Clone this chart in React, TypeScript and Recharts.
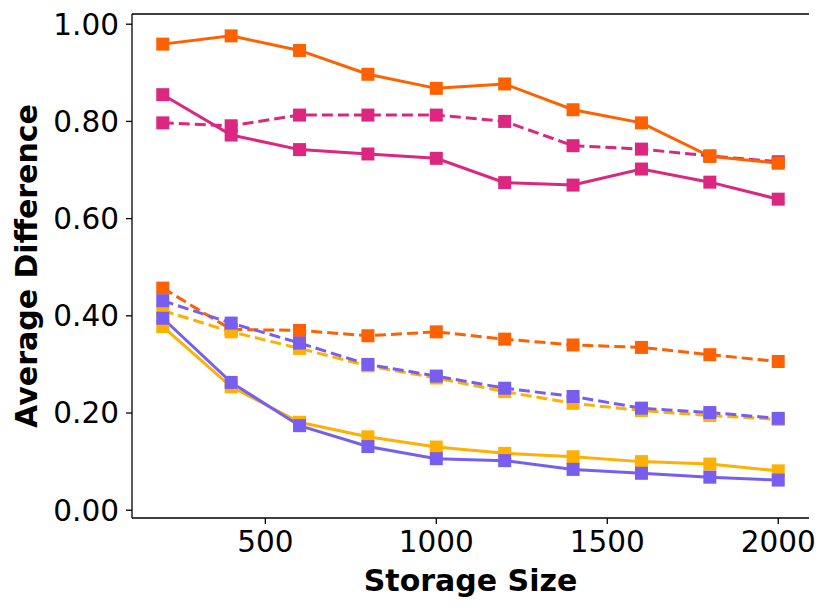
import React from 'react';
import { LineChart, Line, XAxis, YAxis, Label, ReferenceLine } from 'recharts';

const sizes = [200, 400, 600, 800, 1000, 1200, 1400, 1600, 1800, 2000];

const pinkSolid = [0.855, 0.772, 0.742, 0.733, 0.724, 0.674, 0.669, 0.702, 0.675, 0.640];
const pinkDashed = [0.797, 0.791, 0.813, 0.813, 0.813, 0.800, 0.750, 0.743, 0.729, 0.717];
const orangeSolid = [0.959, 0.976, 0.946, 0.897, 0.868, 0.877, 0.824, 0.797, 0.728, 0.714];
const orangeDashed = [0.457, 0.372, 0.370, 0.359, 0.367, 0.352, 0.340, 0.335, 0.320, 0.306];
const yellowSolid = [0.378, 0.254, 0.181, 0.151, 0.130, 0.117, 0.110, 0.100, 0.095, 0.081];
const yellowDashed = [0.411, 0.367, 0.333, 0.297, 0.272, 0.244, 0.220, 0.205, 0.195, 0.187];
const purpleSolid = [0.395, 0.263, 0.174, 0.131, 0.106, 0.102, 0.084, 0.076, 0.068, 0.062];
const purpleDashed = [0.431, 0.385, 0.344, 0.300, 0.276, 0.251, 0.234, 0.210, 0.201, 0.189];

const xTicks = [500, 1000, 1500, 2000];
const yTicks = [0, 0.2, 0.4, 0.6, 0.8, 1.0];
const Y_DOMAIN = [-0.016, 1.021];

const PINK = '#DC267F';
const ORANGE = '#FE6100';
const YELLOW = '#FFB000';
const PURPLE = '#785EF0';

const series = [
  { key: 'pinkSolid', values: pinkSolid, color: PINK, dashed: false },
  { key: 'pinkDashed', values: pinkDashed, color: PINK, dashed: true },
  { key: 'orangeSolid', values: orangeSolid, color: ORANGE, dashed: false },
  { key: 'orangeDashed', values: orangeDashed, color: ORANGE, dashed: true },
  { key: 'yellowSolid', values: yellowSolid, color: YELLOW, dashed: false },
  { key: 'yellowDashed', values: yellowDashed, color: YELLOW, dashed: true },
  { key: 'purpleSolid', values: purpleSolid, color: PURPLE, dashed: false },
  { key: 'purpleDashed', values: purpleDashed, color: PURPLE, dashed: true },
];

const data = sizes.map((size, i) => {
  const row: any = { size };
  series.forEach(s => {
    row[s.key] = s.values[i];
  });
  return row;
});

const FONT = 'DejaVu Sans, sans-serif';

const squareDot = (color: string) => (props: any) => {
  const { cx, cy, index } = props;
  if (cx == null || cy == null) return <g key={`d-${index}`} />;
  return (
    <rect
      key={`d-${index}`}
      x={cx - 6.5}
      y={cy - 6.5}
      width={13}
      height={13}
      fill={color}
      stroke="none"
    />
  );
};

export default function App() {
  return (
    <div style={{ position: 'absolute', left: 0, top: 0, background: '#fff' }}>
      <LineChart
        width={830}
        height={612}
        data={data}
        margin={{ top: 14, right: 21, bottom: 0, left: 0 }}
      >
        <XAxis
          dataKey="size"
          type="number"
          domain={[110, 2090]}
          ticks={xTicks}
          allowDataOverflow
          height={94}
          tickSize={6}
          tickMargin={7}
          axisLine={{ stroke: '#000', strokeWidth: 1.3 }}
          tickLine={{ stroke: '#000', strokeWidth: 1.3 }}
          tick={{ fill: '#000', fontSize: 29.5, fontFamily: FONT }}
        >
          <Label
            value="Storage Size"
            position="insideBottom"
            offset={21}
            style={{ fill: '#000', fontSize: 30, fontWeight: 'bold', fontFamily: FONT }}
          />
        </XAxis>
        <YAxis
          type="number"
          domain={Y_DOMAIN}
          ticks={yTicks}
          allowDataOverflow
          width={132}
          tickSize={6}
          tickMargin={7}
          tickFormatter={(v: number) => v.toFixed(2)}
          axisLine={{ stroke: '#000', strokeWidth: 1.3 }}
          tickLine={{ stroke: '#000', strokeWidth: 1.3 }}
          tick={{ fill: '#000', fontSize: 29.5, fontFamily: FONT }}
        >
          <Label
            value="Average Difference"
            angle={-90}
            position="insideLeft"
            offset={26}
            style={{ fill: '#000', fontSize: 30, fontWeight: 'bold', fontFamily: FONT, textAnchor: 'middle' }}
          />
        </YAxis>
        <YAxis
          yAxisId="right"
          orientation="right"
          domain={Y_DOMAIN}
          width={0}
          tick={false}
          tickLine={false}
          axisLine={{ stroke: '#000', strokeWidth: 1.3 }}
        />
        <ReferenceLine y={Y_DOMAIN[1]} stroke="#000" strokeWidth={1.3} />
        {series.map(s => (
          <Line
            key={s.key}
            dataKey={s.key}
            type="linear"
            stroke={s.color}
            strokeWidth={3}
            strokeDasharray={s.dashed ? '11 5' : undefined}
            dot={squareDot(s.color)}
            activeDot={false}
            isAnimationActive={false}
          />
        ))}
      </LineChart>
    </div>
  );
}
